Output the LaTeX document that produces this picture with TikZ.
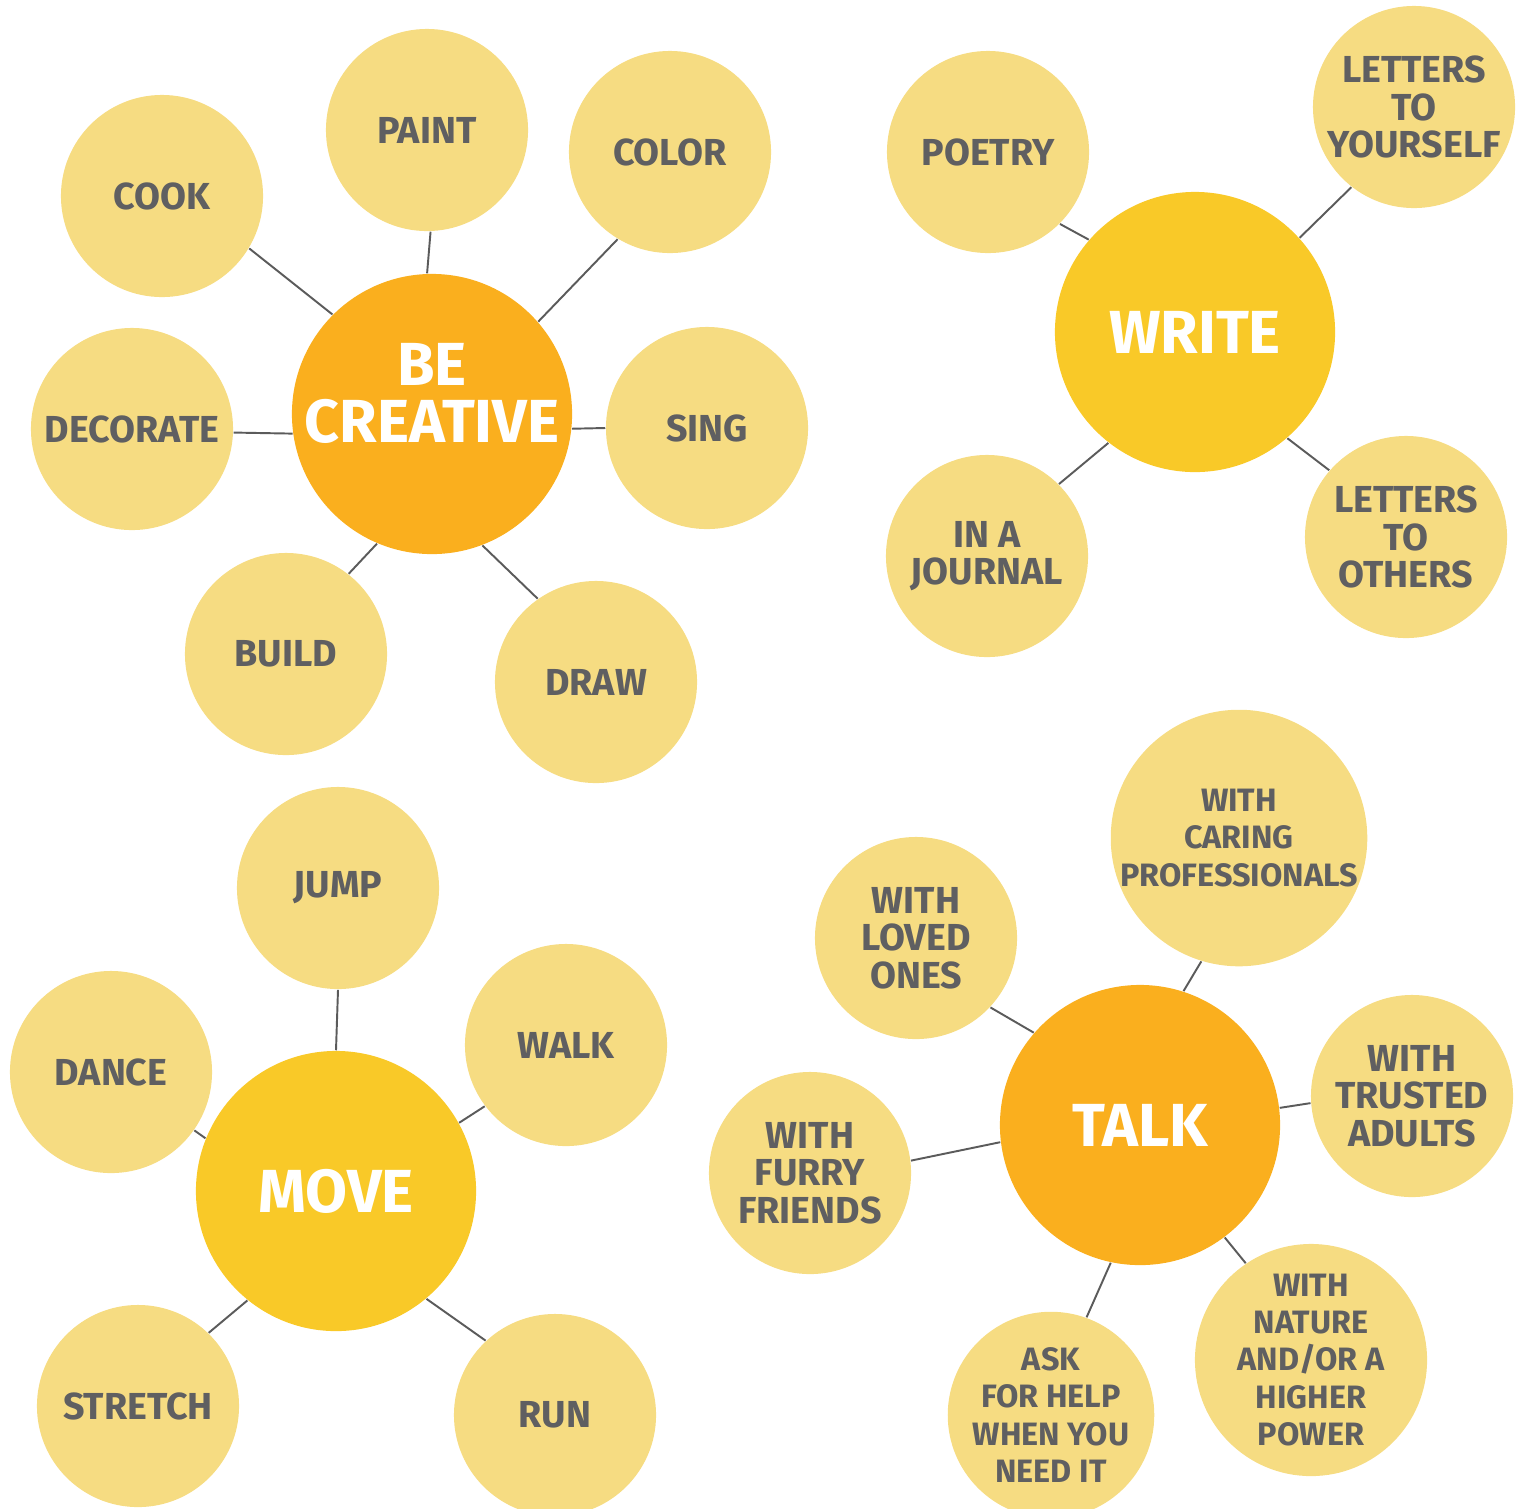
\documentclass[tikz,border=0pt]{standalone}
\usepackage{fontspec}
\setmainfont{Fira Sans}
\definecolor{spokefill}{HTML}{F6DC82}
\definecolor{hubor}{HTML}{FAAF1E}
\definecolor{hubye}{HTML}{F9C928}
\definecolor{inkgray}{HTML}{5F5F61}
\definecolor{linegray}{HTML}{5B5B5B}
\tikzset{
  spoke/.style={circle, fill=spokefill, inner sep=0pt, minimum size=2.02cm, align=center,
    text=inkgray, font=\fontsize{10.7}{10.6}\selectfont\bfseries},
  smalltext/.style={font=\fontsize{9.2}{10.6}\selectfont\bfseries},
  hub/.style={circle, fill=hubor, inner sep=0pt, minimum size=2.8cm, align=center,
    text=white, font=\fontsize{17.3}{16.2}\selectfont\bfseries},
  link/.style={draw=linegray, line width=0.55pt}
}
\begin{document}
\begin{tikzpicture}[x=0.01cm, y=-0.01cm]
\clip (0,0) rectangle (1525,1508);
% be creative
\node (be)[hub, inner sep=-10pt] at (432,414) {BE\\CREATIVE\\[-4pt]\mbox{}};
\node (cook)[spoke] at (162,196) {COOK};
\node (paint)[spoke] at (427,130) {PAINT};
\node (color)[spoke] at (670,152) {COLOR};
\node (decorate)[spoke] at (132,429) {DECORATE};
\node (sing)[spoke] at (707,428) {SING};
\node (build)[spoke] at (286,654) {BUILD};
\node (drawit)[spoke] at (596,682) {DRAW};
\draw[link] (be.135) -- (cook.-31);
\draw[link] (be.92) -- (paint.-88);
\draw[link] (be.41.5) -- (color.-121);
\draw[link] (be.-172) -- (decorate.-2);
\draw[link] (be.-6) -- (sing.180);
\draw[link] (be.-113) -- (build.52);
\draw[link] (be.-69) -- (drawit.125);
% write
\node (write)[hub, fill=hubye] at (1195,332) {WRITE};
\node (poetry)[spoke] at (988,152) {POETRY};
\node (lself)[spoke] at (1414,107) {LETTERS\\TO\\YOURSELF};
\node (journal)[spoke] at (987,556) {IN A\\JOURNAL};
\node (lothers)[spoke] at (1406,537) {LETTERS\\TO\\OTHERS};
\draw[link] (write.139) -- (poetry.-45);
\draw[link] (write.42) -- (lself.-128);
\draw[link] (write.-128) -- (journal.45);
\draw[link] (write.-49) -- (lothers.139);
% move
\node (move)[hub, fill=hubye] at (336,1191) {MOVE};
\node (jump)[spoke] at (338,888) {JUMP};
\node (dance)[spoke] at (111,1072) {DANCE};
\node (walk)[spoke] at (566,1045) {WALK};
\node (stretch)[spoke] at (138,1406) {STRETCH};
\node (run)[spoke] at (555,1415) {RUN};
\draw[link] (move.90) -- (jump.-90);
\draw[link] (move.158) -- (dance.-35);
\draw[link] (move.29.5) -- (walk.-143);
\draw[link] (move.-129) -- (stretch.46);
\draw[link] (move.-50) -- (run.133);
% talk
\node (talk)[hub] at (1140,1125) {TALK};
\node (caring)[spoke, smalltext, minimum size=2.56cm] at (1239,838) {WITH\\CARING\\PROFESSIONALS};
\node (loved)[spoke] at (916,938) {WITH\\LOVED\\ONES};
\node (trusted)[spoke] at (1412,1096) {WITH\\TRUSTED\\ADULTS};
\node (furry)[spoke] at (810,1173) {WITH\\FURRY\\FRIENDS};
\node (askhelp)[spoke, smalltext] at (1051,1415) {ASK\\FOR HELP\\WHEN YOU\\NEED IT};
\node (nature)[spoke, smalltext, minimum size=2.32cm] at (1311,1360) {WITH\\NATURE\\AND/OR A\\HIGHER\\POWER};
\draw[link] (talk.72) -- (caring.-107);
\draw[link] (talk.139) -- (loved.-43);
\draw[link] (talk.7) -- (trusted.-176);
\draw[link] (talk.-173) -- (furry.7);
\draw[link] (talk.-102) -- (askhelp.70);
\draw[link] (talk.-53) -- (nature.124);
\end{tikzpicture}
\end{document}
